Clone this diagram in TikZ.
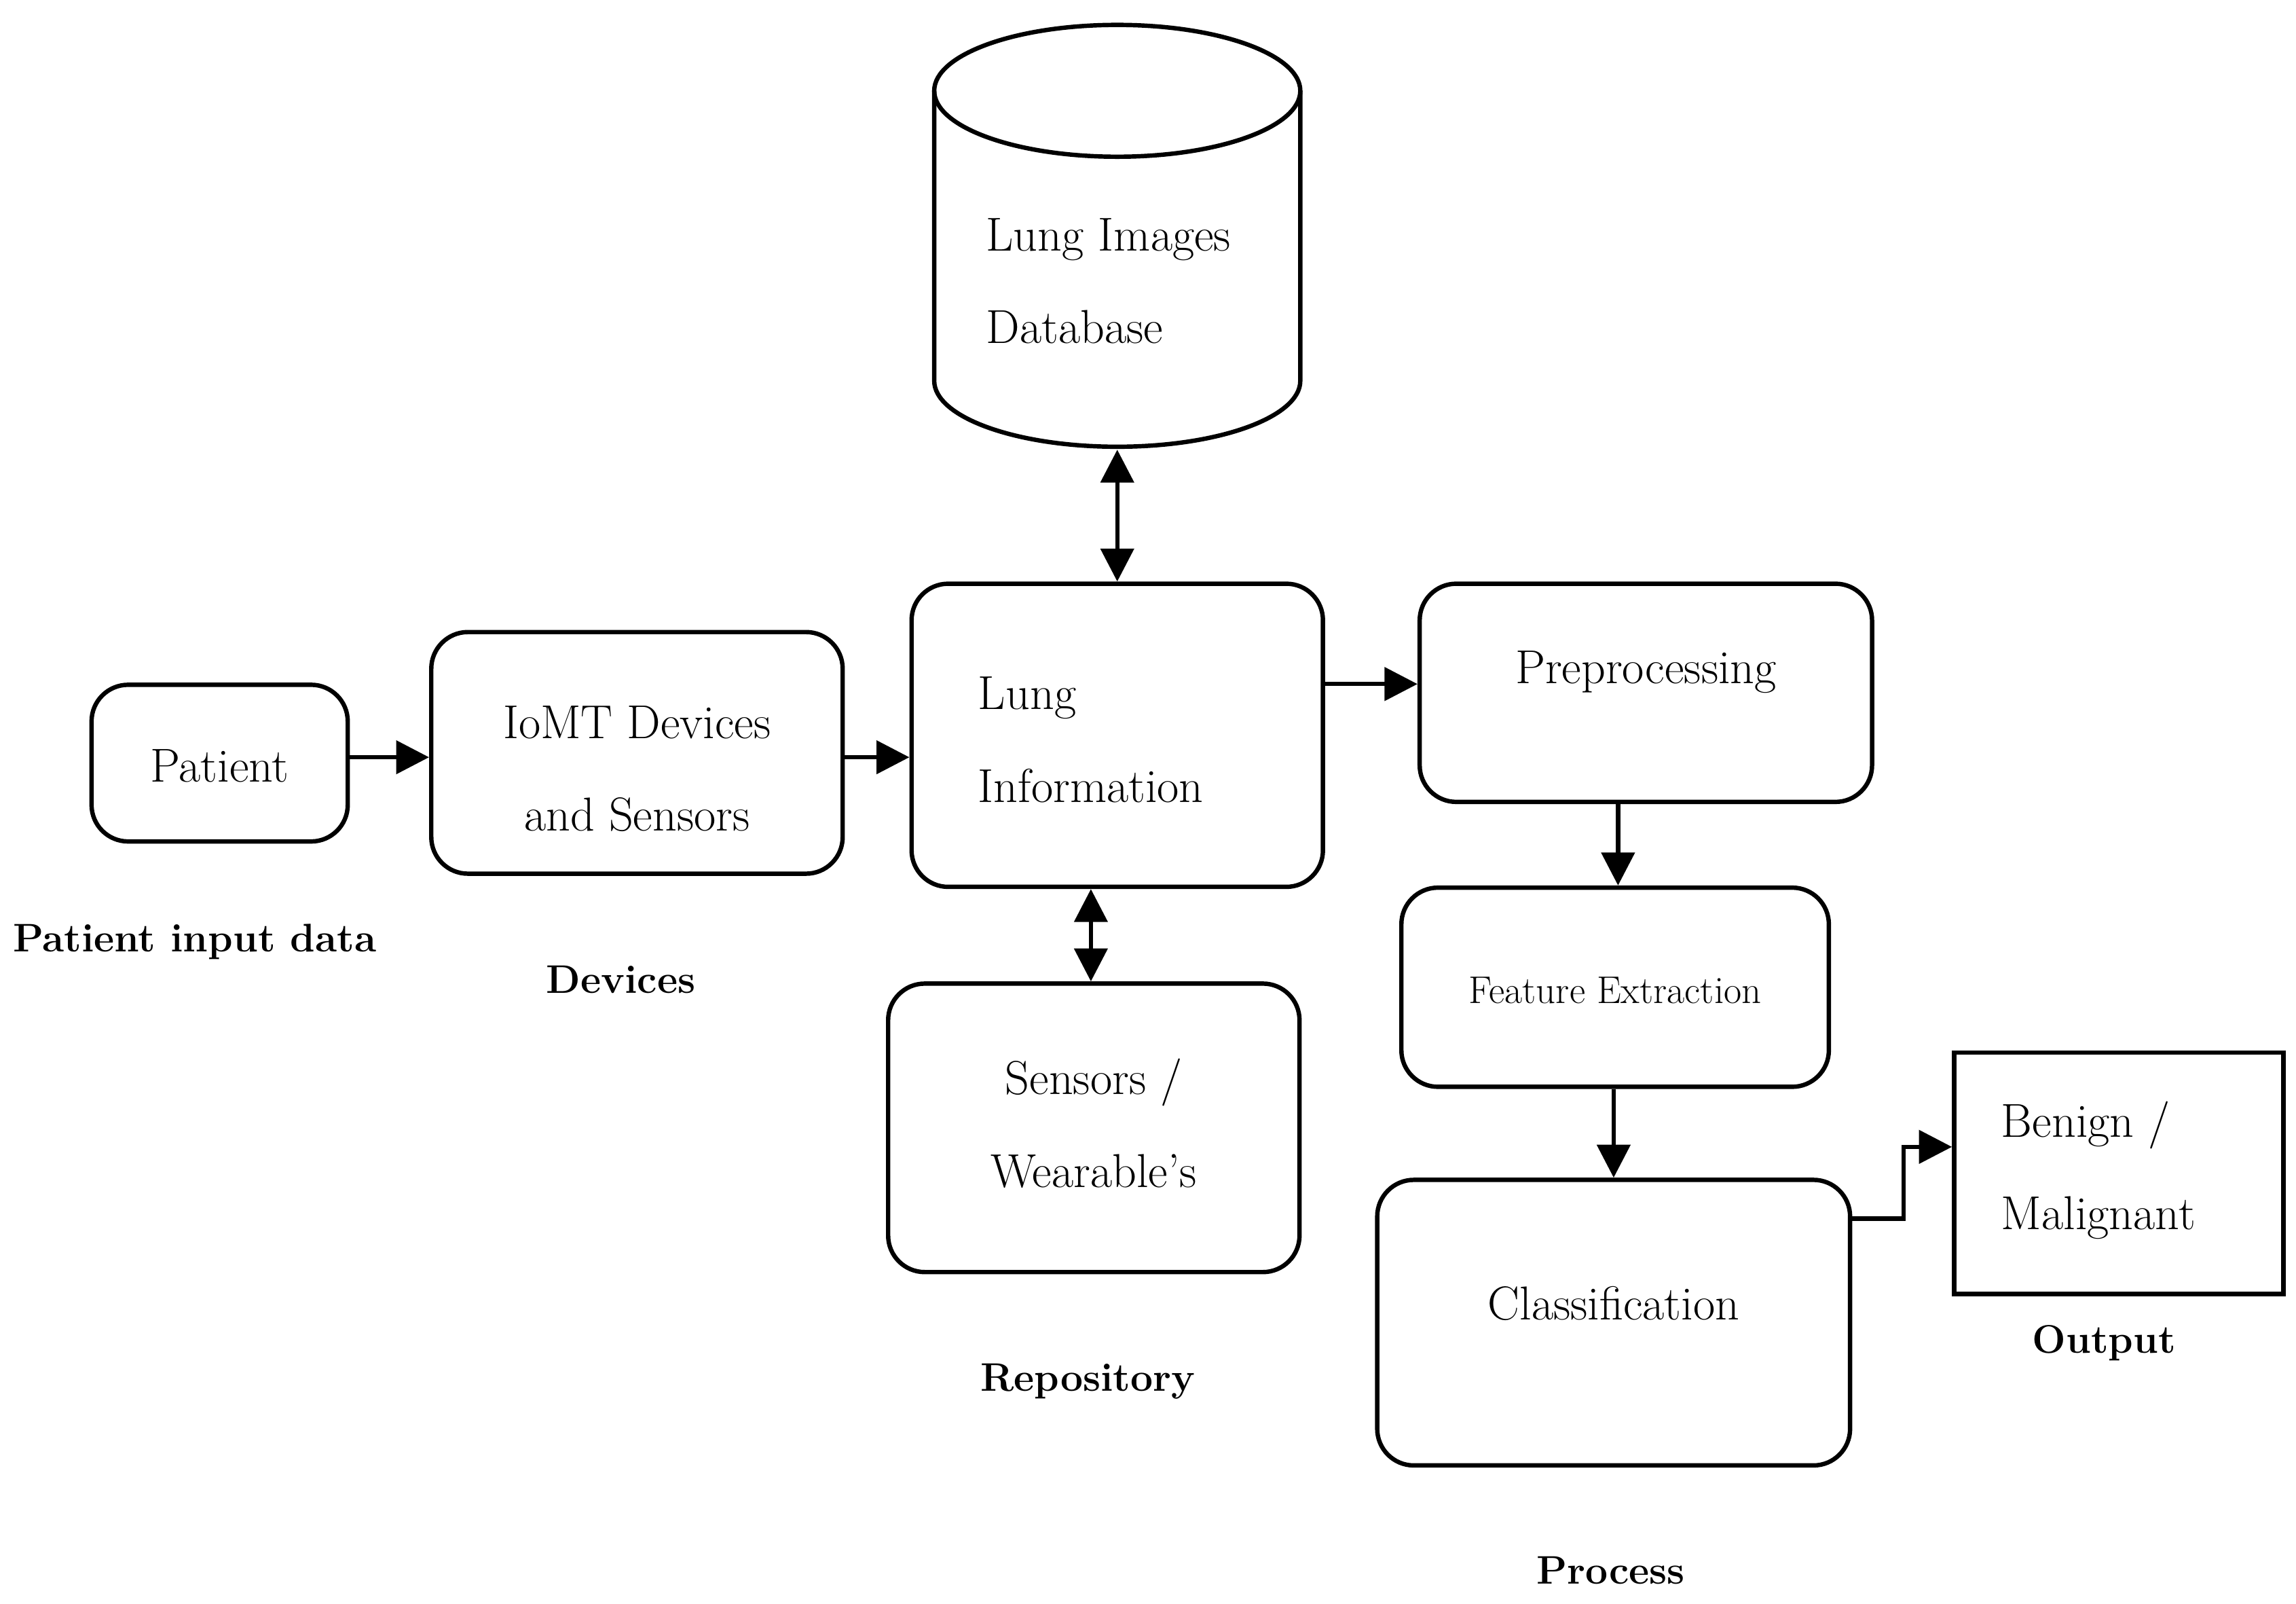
\documentclass[tikz,border=0pt]{standalone}
\usetikzlibrary{arrows.meta}
\begin{document}
\begin{tikzpicture}[x=0.02cm,y=-0.02cm,line width=1.7pt,
  box/.style={draw,rounded corners=0.5cm,line width=1.7pt},
  txt/.style={font=\fontsize{18.5}{36}\selectfont,align=left,inner sep=0},
  lab/.style={font=\fontsize{15.5}{20}\selectfont\bfseries,inner sep=0},
  arr/.style={-{Triangle[length=0.45cm,width=0.45cm]},line width=1.7pt},
  darr/.style={{Triangle[length=0.45cm,width=0.45cm]}-{Triangle[length=0.45cm,width=0.45cm]},line width=1.7pt}]
\useasboundingbox (0,0) rectangle (1568,1095);
% cylinder
\draw (638,62) -- (638,260) arc[start angle=180,end angle=360,x radius=125,y radius=-45] -- (888,62);
\draw (763,62) ellipse[x radius=125,y radius=45];
\coordinate (cb) at (763,307);
\node[txt] (db) at (757,192) {Lung Images\\Database};
\node[box,minimum width=3.5cm,minimum height=2.14cm] (pat) at (150,521) {};
\node[txt] at (150,523) {Patient};
\node[box,minimum width=5.62cm,minimum height=3.3cm] (iomt) at (435,514) {};
\node[txt,align=center] at (435,525) {IoMT Devices\\and Sensors};
\node[box,minimum width=5.62cm,minimum height=4.14cm] (lung) at (763,502) {};
\node[txt] at (745,505) {Lung\\Information};
\node[box,minimum width=6.18cm,minimum height=2.98cm] (pre) at (1124,473) {};
\node[txt] at (1124,459) {Preprocessing};
\node[box,minimum width=5.84cm,minimum height=2.72cm] (fe) at (1103,674) {};
\node[font=\fontsize{15}{17}\selectfont,inner sep=0] at (1103,676) {Feature Extraction};
\node[box,minimum width=5.62cm,minimum height=3.94cm] (sw) at (747,770) {};
\node[txt,align=center] at (747,767) {Sensors /\\Wearable's};
\node[box,minimum width=6.46cm,minimum height=3.9cm] (cl) at (1102,903) {};
\node[txt] at (1102,890) {Classification};
\node[draw,line width=1.7pt,minimum width=4.5cm,minimum height=3.3cm] (out) at (1447,801) {};
\node[txt] at (1433,799) {Benign /\\Malignant};
\node[lab] at (133,643) {Patient input data};
\node[lab] at (424,669) {Devices};
\node[lab] at (743,943) {Repository};
\node[lab] at (1437,917) {Output};
\node[lab] at (1100,1072) {Process};
\draw[arr] (pat.east|-0,517) -- (iomt.west|-0,517);
\draw[arr] (iomt.east|-0,517) -- (lung.west|-0,517);
\draw[arr] (lung.east|-0,467) -- (pre.west|-0,467);
\draw[darr] (cb) -- (lung.north);
\draw[darr] (lung.south-|745,0) -- (sw.north-|745,0);
\draw[arr] (pre.south-|1105,0) -- (fe.north-|1105,0);
\draw[arr] (fe.south-|1102,0) -- (cl.north-|1102,0);
\draw[arr] (cl.east|-0,832) -- (1300,832) -- (1300,783) -- (out.west|-0,783);
\end{tikzpicture}
\end{document}
